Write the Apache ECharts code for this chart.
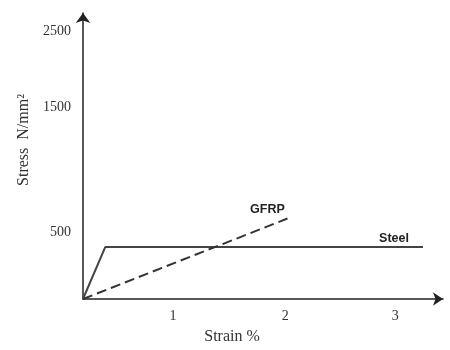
<!DOCTYPE html>
<html>
<head>
<meta charset="utf-8">
<script src="https://cdn.jsdelivr.net/npm/echarts@6/dist/echarts.min.js"></script>
<style>
  html, body { margin: 0; padding: 0; background: #fff; }
  #main { width: 450px; height: 350px; }
</style>
</head>
<body>
<div id="main"></div>
<script>
// schematic figure: the printed tick labels are not evenly spaced,
// so the label positions are kept separately from their texts
var xTickPos = [0.81, 1.82, 2.81]
var xTickLabels = ['1', '2', '3']
var yTickPos = [500, 1440, 2010]
var yTickLabels = ['500', '1500', '2500']

// Steel: elastic rise then yield plateau
var steelStrain = [0, 0.2, 3.06]
var steelStress = [0, 390, 390]
// GFRP: linear up to rupture
var gfrpStrain = [0, 1.84]
var gfrpStress = [0, 605]

var serif = '"Liberation Serif", "Times New Roman", serif'
var sans = '"Liberation Sans", Arial, sans-serif'

function pairs(xs, ys) {
  return xs.map(function (x, i) { return [x, ys[i]] })
}

var steelData = pairs(steelStrain, steelStress)
steelData[steelData.length - 1] = {
  value: steelData[steelData.length - 1],
  label: { show: true, formatter: 'Steel', position: 'top', offset: [-29, 3] }
}
var gfrpData = pairs(gfrpStrain, gfrpStress)
gfrpData[gfrpData.length - 1] = {
  value: gfrpData[gfrpData.length - 1],
  label: { show: true, formatter: 'GFRP', position: 'top', offset: [-20, 3] }
}

var myChart = echarts.init(document.getElementById('main'))
var option = {
  animation: false,
  grid: { left: 83, right: 7, top: 13, bottom: 49 },
  xAxis: {
    type: 'value',
    min: 0,
    max: 3.24,
    name: 'Strain %',
    nameLocation: 'middle',
    nameGap: 30,
    nameTextStyle: { fontFamily: serif, fontSize: 16, color: '#333', padding: [0, 62, 0, 0] },
    axisLine: {
      show: true,
      lineStyle: { color: '#222', width: 1.5 },
      symbol: ['none', 'arrow'],
      symbolSize: [10, 10]
    },
    axisTick: { show: false },
    splitLine: { show: false },
    axisLabel: {
      customValues: xTickPos,
      margin: 10,
      fontFamily: serif,
      fontSize: 14,
      color: '#333',
      formatter: function (v) {
        var i = xTickPos.indexOf(v)
        return i >= 0 ? xTickLabels[i] : ''
      }
    }
  },
  yAxis: {
    type: 'value',
    min: 0,
    max: 2150,
    name: 'Stress  N/mm²',
    nameLocation: 'middle',
    nameGap: 48,
    nameTextStyle: { fontFamily: serif, fontSize: 16, color: '#333', padding: [0, 0, 0, 32] },
    axisLine: {
      show: true,
      lineStyle: { color: '#222', width: 1.5 },
      symbol: ['none', 'arrow'],
      symbolSize: [11, 10]
    },
    axisTick: { show: false },
    splitLine: { show: false },
    axisLabel: {
      customValues: yTickPos,
      margin: 12,
      fontFamily: serif,
      fontSize: 14,
      color: '#333',
      formatter: function (v) {
        var i = yTickPos.indexOf(v)
        return i >= 0 ? yTickLabels[i] : ''
      }
    }
  },
  series: [
    {
      name: 'Steel',
      type: 'line',
      data: steelData,
      symbol: 'circle',
      symbolSize: 0,
      showSymbol: true,
      lineStyle: { color: '#444', width: 2 },
      label: { fontFamily: sans, fontSize: 12.5, fontWeight: 'bold', color: '#222' }
    },
    {
      name: 'GFRP',
      type: 'line',
      data: gfrpData,
      symbol: 'circle',
      symbolSize: 0,
      showSymbol: true,
      lineStyle: { color: '#333', width: 2, type: [10, 5] },
      label: { fontFamily: sans, fontSize: 12.5, fontWeight: 'bold', color: '#222' }
    }
  ]
}
myChart.setOption(option)
</script>
</body>
</html>
